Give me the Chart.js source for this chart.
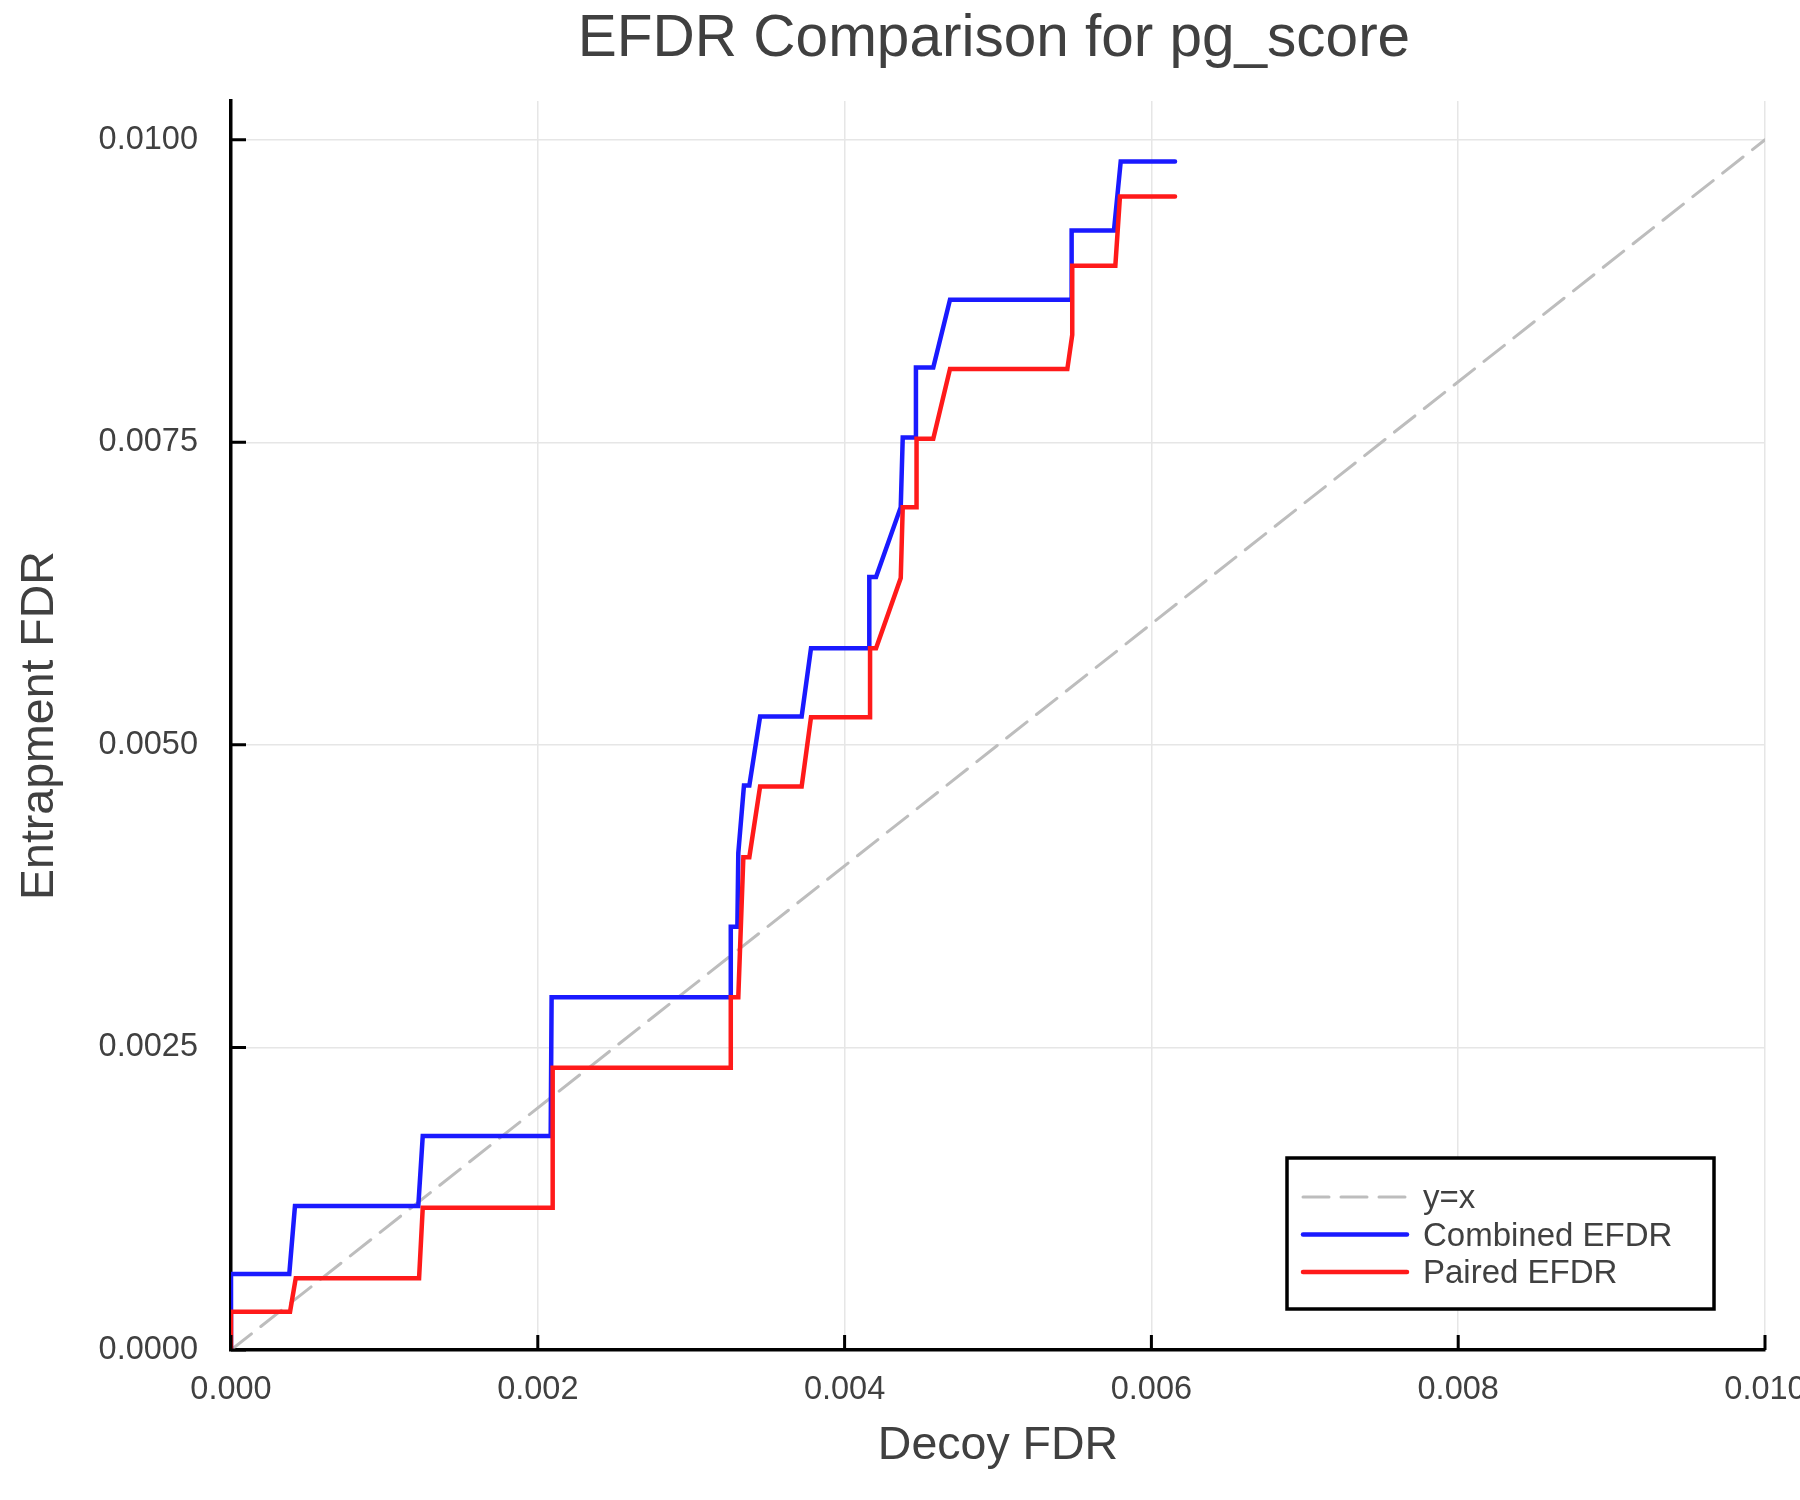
<!DOCTYPE html>
<html>
<head>
<meta charset="utf-8">
<title>EFDR Comparison for pg_score</title>
<script src="https://cdn.jsdelivr.net/npm/chart.js@4.4.0/dist/chart.umd.min.js"></script>
<style>
  html, body { margin: 0; padding: 0; background: #fff; }
  #wrap { width: 1800px; height: 1500px; }
</style>
</head>
<body>
<div id="wrap"><canvas id="chart" width="1800" height="1500"></canvas></div>
<script>
// tick values
const xTicks = [0, 0.002, 0.004, 0.006, 0.008, 0.010];
const yTicks = [0, 0.0025, 0.0050, 0.0075, 0.0100];

// reference diagonal
const diagX = [0, 0.010];
const diagY = [0, 0.010];

// Combined EFDR
const combinedX = [0, 0, 0.000380, 0.000417, 0.001221, 0.001250, 0.002084, 0.002090, 0.003258, 0.003258,
    0.003301, 0.003307, 0.003344, 0.003379, 0.003449, 0.003720, 0.003781, 0.004161, 0.004161, 0.004205,
    0.004366, 0.004379, 0.004465, 0.004465, 0.004578, 0.004687, 0.005480, 0.005480, 0.005756, 0.005800, 0.006154];
const combinedY = [0, 0.000628, 0.000628, 0.001190, 0.001190, 0.001769, 0.001769, 0.002915, 0.002915, 0.003498,
    0.003498, 0.004105, 0.004664, 0.004664, 0.005234, 0.005234, 0.005799, 0.005799, 0.006386, 0.006386,
    0.006964, 0.007540, 0.007540, 0.008118, 0.008118, 0.008678, 0.008678, 0.009250, 0.009250, 0.009821, 0.009821];

// Paired EFDR
const pairedX = [0, 0, 0.000385, 0.000422, 0.001226, 0.001250, 0.002097, 0.002097, 0.003258, 0.003258,
    0.003307, 0.003340, 0.003379, 0.003449, 0.003720, 0.003781, 0.004166, 0.004166, 0.004205, 0.004366,
    0.004379, 0.004469, 0.004469, 0.004578, 0.004687, 0.005452, 0.005484, 0.005484, 0.005765, 0.005795, 0.006154];
const pairedY = [0, 0.000317, 0.000317, 0.000593, 0.000593, 0.001176, 0.001176, 0.002333, 0.002333, 0.002915,
    0.002915, 0.004072, 0.004072, 0.004655, 0.004655, 0.005229, 0.005229, 0.005799, 0.005799, 0.006378,
    0.006964, 0.006964, 0.007529, 0.007529, 0.008105, 0.008105, 0.008388, 0.008959, 0.008959, 0.009531, 0.009531];

const FONT = "'Liberation Sans', Arial, Helvetica, sans-serif";
const TEXT = '#404040';

function pts(xs, ys) {
    return xs.map((x, i) => ({ x: x, y: ys[i] }));
}

// small inward tick marks like the original plot
const insideTicks = {
    id: 'insideTicks',
    afterDatasetsDraw(chart) {
        const ctx = chart.ctx, a = chart.chartArea;
        const sx = chart.scales.x, sy = chart.scales.y;
        ctx.save();
        ctx.strokeStyle = '#000';
        ctx.lineWidth = 3;
        ctx.beginPath();
        xTicks.forEach(v => {
            const px = sx.getPixelForValue(v);
            ctx.moveTo(px, a.bottom);
            ctx.lineTo(px, a.bottom - 15);
        });
        yTicks.forEach(v => {
            const py = sy.getPixelForValue(v);
            ctx.moveTo(a.left, py);
            ctx.lineTo(a.left + 15, py);
        });
        ctx.stroke();
        ctx.restore();
    }
};

// title centred over the plot area
const plotTitle = {
    id: 'plotTitle',
    afterDraw(chart) {
        const ctx = chart.ctx, a = chart.chartArea;
        ctx.save();
        ctx.font = '58.5px ' + FONT;
        ctx.fillStyle = TEXT;
        ctx.textAlign = 'center';
        ctx.textBaseline = 'alphabetic';
        ctx.fillText('EFDR Comparison for pg_score', (a.left + a.right) / 2 - 4, 56);
        ctx.restore();
    }
};

// boxed legend in the lower right corner of the plot
const boxLegend = {
    id: 'boxLegend',
    afterDraw(chart) {
        const ctx = chart.ctx, a = chart.chartArea;
        const w = 427, h = 151;
        const right = a.right - 51, bottom = a.bottom - 41;
        const left = right - w, top = bottom - h;
        ctx.save();
        ctx.fillStyle = '#fff';
        ctx.fillRect(left, top, w, h);
        ctx.strokeStyle = '#000';
        ctx.lineWidth = 3.5;
        ctx.strokeRect(left, top, w, h);
        ctx.font = '33px ' + FONT;
        ctx.textBaseline = 'middle';
        ctx.textAlign = 'left';
        chart.data.datasets.forEach((ds, i) => {
            const y = top + 39 + i * 37.5;
            ctx.beginPath();
            ctx.strokeStyle = ds.borderColor;
            ctx.lineWidth = ds.borderWidth;
            ctx.lineCap = 'round';
            ctx.setLineDash(ds.borderDash || []);
            ctx.moveTo(left + 16, y);
            ctx.lineTo(left + 120, y);
            ctx.stroke();
            ctx.setLineDash([]);
            ctx.fillStyle = TEXT;
            ctx.fillText(ds.label, left + 136, y + 2);
        });
        ctx.restore();
    }
};

const ctx = document.getElementById('chart').getContext('2d');
const chart = new Chart(ctx, {
    type: 'line',
    data: {
        datasets: [
            {
                label: 'y=x',
                data: pts(diagX, diagY),
                borderColor: '#bdbdbd',
                borderWidth: 3,
                borderDash: [26, 12],
                pointRadius: 0,
                order: 3
            },
            {
                label: 'Combined EFDR',
                data: pts(combinedX, combinedY),
                borderColor: '#1a1aff',
                borderWidth: 4.5,
                pointRadius: 0,
                order: 2
            },
            {
                label: 'Paired EFDR',
                data: pts(pairedX, pairedY),
                borderColor: '#ff1a1a',
                borderWidth: 4.5,
                pointRadius: 0,
                order: 1
            }
        ]
    },
    options: {
        responsive: false,
        devicePixelRatio: 1,
        animation: false,
        layout: {
            padding: { top: 101, right: 35, left: 0, bottom: 0 },
            autoPadding: false
        },
        elements: { line: { tension: 0, borderCapStyle: 'round' } },
        plugins: {
            legend: { display: false },
            title: { display: false },
            tooltip: { enabled: false }
        },
        scales: {
            x: {
                type: 'linear',
                min: 0,
                max: 0.010,
                afterBuildTicks: s => { s.ticks = xTicks.map(v => ({ value: v })); },
                afterFit: s => { s.height = 150; s.paddingLeft = 0; s.paddingRight = 0; },
                grid: { color: '#e6e6e6', lineWidth: 1.5, drawTicks: false },
                border: { display: true, color: '#000', width: 3.5 },
                ticks: {
                    color: TEXT,
                    font: { family: FONT, size: 32.5 },
                    padding: 21,
                    maxRotation: 0,
                    autoSkip: false,
                    callback: v => v.toFixed(3)
                },
                title: {
                    display: true,
                    text: 'Decoy FDR',
                    color: TEXT,
                    font: { family: FONT, size: 46.5 },
                    padding: { top: 0, bottom: 26 }
                }
            },
            y: {
                type: 'linear',
                min: 0,
                max: 0.01032,
                afterBuildTicks: s => { s.ticks = yTicks.map(v => ({ value: v })); },
                afterFit: s => { s.width = 231; s.paddingTop = 0; s.paddingBottom = 0; },
                grid: { color: '#e6e6e6', lineWidth: 1.5, drawTicks: false },
                border: { display: true, color: '#000', width: 3.5 },
                ticks: {
                    color: TEXT,
                    font: { family: FONT, size: 32.5 },
                    padding: 33,
                    autoSkip: false,
                    callback: v => v.toFixed(4)
                },
                title: {
                    display: true,
                    text: 'Entrapment FDR',
                    color: TEXT,
                    font: { family: FONT, size: 46.5 },
                    padding: { top: 12, bottom: 0 }
                }
            }
        }
    },
    plugins: [insideTicks, plotTitle, boxLegend]
});
</script>
</body>
</html>
